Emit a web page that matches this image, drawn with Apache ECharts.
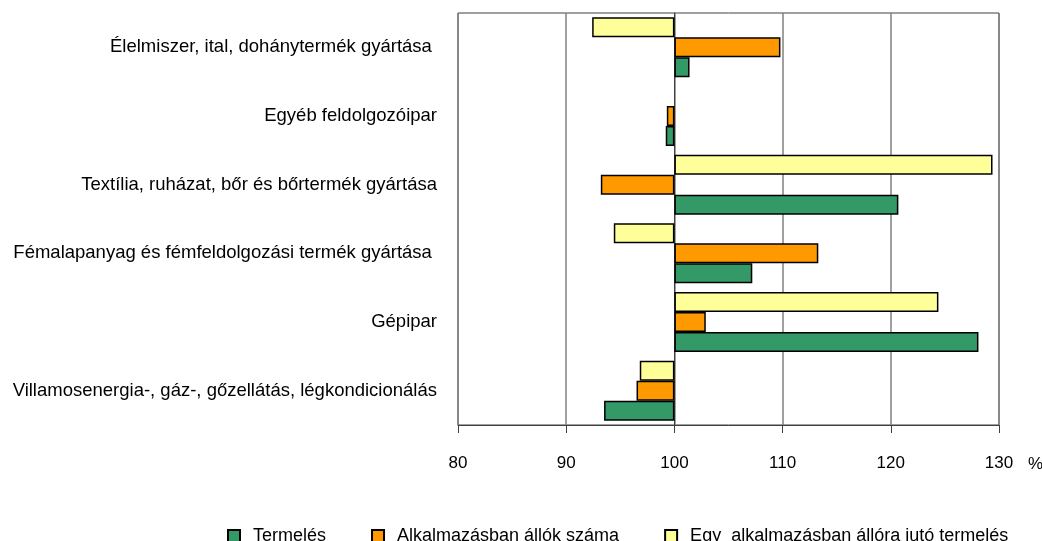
<!DOCTYPE html>
<html>
<head>
<meta charset="utf-8">
<script src="https://cdn.jsdelivr.net/npm/echarts@6/dist/echarts.min.js"></script>
<style>
  html, body { margin: 0; padding: 0; background: #fff; }
  #chart { width: 1042px; height: 541px; }
</style>
</head>
<body>
<div id="chart"></div>
<script>
// kategóriák felülről lefelé
var categories = [
    'Élelmiszer, ital, dohánytermék gyártása ',
    'Egyéb feldolgozóipar',
    'Textília, ruházat, bőr és bőrtermék gyártása',
    'Fémalapanyag és fémfeldolgozási termék gyártása ',
    'Gépipar',
    'Villamosenergia-, gáz-, gőzellátás, légkondicionálás'
];
var seriesNames = ['Termelés', 'Alkalmazásban állók száma', 'Egy  alkalmazásban állóra jutó termelés'];
// előző év = 100%
var termeles = [101.4, 99.2, 120.7, 107.2, 128.1, 93.5];
var letszam = [109.8, 99.3, 93.2, 113.3, 102.9, 96.5];
var termelekenyseg = [92.4, null, 129.4, 94.4, 124.4, 96.8];
var xTicks = [80, 90, 100, 110, 120, 130];

var BASE = 100;
var FONT = '"Liberation Sans", Arial, sans-serif';
var colors = ['#339966', '#FF9900', '#FFFF99'];

function shift(arr) {
    // a sávok 100-tól indulnak, ezért az eltérést ábrázoljuk
    return arr.slice().reverse().map(function (v) { return v == null ? null : v - BASE; });
}

var chart = echarts.init(document.getElementById('chart'), null, { renderer: 'canvas' });
var dataSets = [termeles, letszam, termelekenyseg];

// az első sorozat kerül felülre, ezért fordított sorrendben adjuk át
var series = [2, 1, 0].map(function (i) {
    return {
        name: seriesNames[i],
        type: 'bar',
        data: shift(dataSets[i]),
        barWidth: 20,
        barGap: '0%',
        itemStyle: { color: colors[i], borderColor: '#000', borderWidth: 1.5 }
    };
});

chart.setOption({
    animation: false,
    backgroundColor: '#fff',
    textStyle: { fontFamily: FONT },
    grid: {
        left: 458, right: 43, top: 13, bottom: 116,
        outerBoundsMode: 'none',
        show: true, borderColor: '#404040', borderWidth: 1
    },
    legend: {
        data: seriesNames,
        left: 222, top: 522,
        icon: 'rect', itemWidth: 12, itemHeight: 12, itemGap: 45,
        textStyle: { fontFamily: FONT, fontSize: 18, color: '#000', padding: [0, 0, 0, 8] }
    },
    xAxis: {
        type: 'value',
        min: xTicks[0] - BASE, max: xTicks[xTicks.length - 1] - BASE, interval: 10,
        name: '%',
        nameLocation: 'end', nameGap: 29,
        nameTextStyle: { fontFamily: FONT, fontSize: 17, color: '#000', verticalAlign: 'top', padding: [31, 0, 0, 0] },
        axisLine: { show: true, lineStyle: { color: '#404040', width: 1 } },
        axisTick: { show: true, length: 8, lineStyle: { color: '#404040' } },
        axisLabel: {
            margin: 30, fontFamily: FONT, fontSize: 17, color: '#000',
            formatter: function (v) { return String(v + BASE); }
        },
        splitLine: { show: true, lineStyle: { color: '#808080', width: 1.5 } }
    },
    yAxis: {
        type: 'category',
        data: categories.slice().reverse(),
        axisLine: { show: true, lineStyle: { color: '#404040' } },
        axisTick: { show: false },
        axisLabel: { margin: 21, fontFamily: FONT, fontSize: 18.5, color: '#000' },
        splitLine: { show: false }
    },
    series: series
});
</script>
</body>
</html>
